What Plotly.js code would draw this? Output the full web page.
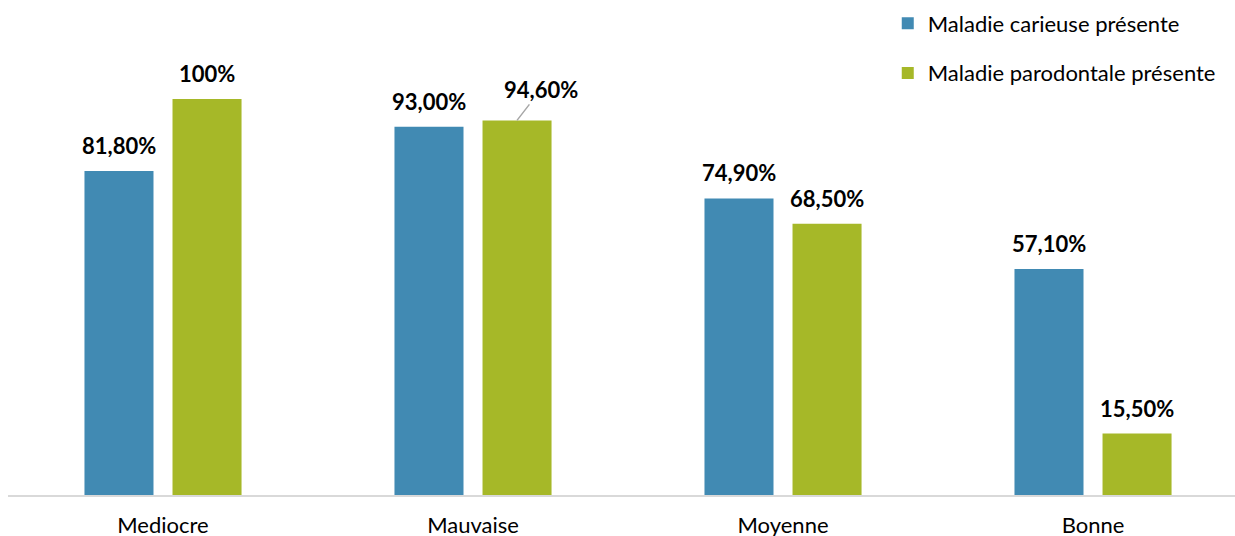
<!DOCTYPE html>
<html><head><meta charset="utf-8">
<script src="https://cdn.plot.ly/plotly-3.0.1.min.js"></script>
<style>html,body{margin:0;padding:0;background:#fff}#chart{width:1235px;height:536px}</style>
</head><body><div id="chart"></div>
<script>
const categories = ["Mediocre", "Mauvaise", "Moyenne", "Bonne"];
const seriesNames = ["Maladie carieuse présente", "Maladie parodontale présente"];
const carieuse = [81.8, 93.0, 74.9, 57.1];
const parodontale = [100, 94.6, 68.5, 15.5];
const carieuseLabels = ["81,80%", "93,00%", "74,90%", "57,10%"];
const parodontaleLabels = ["100%", "94,60%", "68,50%", "15,50%"];
const colors = ["#418AB3", "#A6B828"];
const FONT = "Lato, 'Open Sans', sans-serif";

const traces = [
  {type:'bar', name:seriesNames[0], x:categories, y:carieuse, marker:{color:colors[0]}, legendgroup:'a', hoverinfo:'none'},
  {type:'bar', name:seriesNames[1], x:categories, y:parodontale, marker:{color:colors[1]}, legendgroup:'b', hoverinfo:'none'}
];

const annotations = [];
const series = [[carieuse, carieuseLabels, -44], [parodontale, parodontaleLabels, 44]];
series.forEach(([vals, labs, shift]) => {
  vals.forEach((v, i) => {
    const a = {x: categories[i], y: v, xref:'x', yref:'y', text: labs[i], xshift: shift,
      font:{family:FONT, size:22, color:'#000', weight:'bold'}, showarrow:false, yanchor:'bottom', yshift:10};
    if (labs[i] === "94,60%") {
      Object.assign(a, {showarrow:true, arrowhead:0, arrowwidth:1.5, arrowcolor:'#a6a6a6', ax:24, ay:-31, yshift:0});
      delete a.yanchor;
    }
    annotations.push(a);
  });
});

const layout = {
  width:1235, height:536,
  margin:{l:8, r:0, t:0, b:41},
  paper_bgcolor:'#fff', plot_bgcolor:'#fff',
  barmode:'group', bargap:0.432, bargroupgap:0.216,
  font:{family:FONT, size:22, color:'#000'},
  xaxis:{type:'category', range:[-0.5, 3.458], showline:true, linecolor:'#d9d9d9', linewidth:2,
    ticks:'', showgrid:false, zeroline:false, tickfont:{family:FONT, size:22, color:'#000'}, ticklabelstandoff:10, fixedrange:true},
  yaxis:{range:[0,125], visible:false, showgrid:false, zeroline:false, fixedrange:true},
  showlegend:true,
  legend:{x:0.717, xanchor:'left', y:0.995, yanchor:'top', tracegroupgap:18, font:{family:FONT, size:22, color:'#000'}, bgcolor:'rgba(0,0,0,0)'},
  annotations: annotations
};
Plotly.newPlot('chart', traces, layout, {staticPlot:true, displayModeBar:false});
</script></body></html>
